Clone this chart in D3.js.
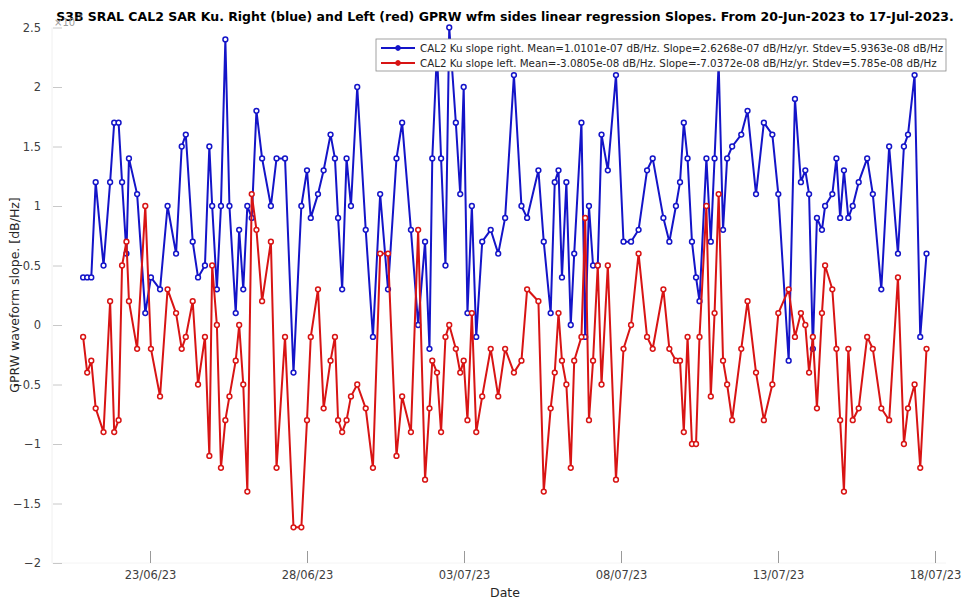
<!DOCTYPE html>
<html lang="en">
<head>
<meta charset="utf-8">
<title>CAL2 GPRW slopes</title>
<script src="https://cdn.jsdelivr.net/npm/d3@7"></script>
<style>
  body { margin: 0; background: #fff; }
  svg text { font-family: "DejaVu Sans", sans-serif; }
  .tick text { fill: #404040; }
</style>
</head>
<body>
<div id="chart"></div>
<script>
// days since 20-Jun-2023 00:00 UTC
var dayOffset = [
  0.87, 1.00, 1.13, 1.27, 1.52, 1.73, 1.86, 2.00, 2.11, 2.25, 2.33, 2.59, 2.85, 3.03, 3.32,
  3.56, 3.83, 4.01, 4.14, 4.36, 4.53, 4.75, 4.89, 4.98, 5.13, 5.26, 5.40, 5.53, 5.73, 5.84,
  5.97, 6.10, 6.24, 6.39, 6.57, 6.85, 7.03, 7.30, 7.57, 7.82, 8.00, 8.12, 8.35, 8.53, 8.75,
  8.89, 8.99, 9.12, 9.26, 9.40, 9.60, 9.87, 10.10, 10.33, 10.58, 10.85, 11.03,
  11.31, 11.54, 11.76, 11.90, 11.99, 12.14, 12.27, 12.41, 12.53, 12.74, 12.88, 12.99, 13.11, 13.25,
  13.39, 13.58, 13.85, 14.09, 14.31, 14.59, 14.83, 15.01, 15.37, 15.54, 15.76, 15.89, 16.01, 16.12, 16.26,
  16.40, 16.51, 16.74, 16.86, 16.98, 17.11, 17.26, 17.38, 17.58, 17.84, 18.08, 18.32, 18.56, 18.83, 19.01,
  19.35, 19.54, 19.75, 19.88, 20.00, 20.12, 20.26, 20.39, 20.50, 20.72, 20.86, 20.98, 21.11, 21.25, 21.38, 21.54,
  21.83, 22.03, 22.30, 22.55, 22.82, 23.01, 23.34, 23.54, 23.73, 23.87, 23.99, 24.11, 24.24, 24.40, 24.50,
  24.73, 24.86, 24.98, 25.10, 25.24, 25.38, 25.57, 25.84, 26.02, 26.29, 26.54, 26.82, 27.01, 27.14, 27.35, 27.53, 27.73
];

// slopes in units of 1e-7 dB/Hz
var slopeRight = [
  0.4, 0.4, 0.4, 1.2, 0.5, 1.2, 1.7, 1.7, 1.2, 0.6, 1.4, 1.1, 0.1, 0.4, 0.3,
  1.0, 0.6, 1.5, 1.6, 0.7, 0.4, 0.5, 1.5, 1.0, 0.3, 1.0, 2.4, 1.0, 0.1, 0.8,
  0.3, 1.0, 0.9, 1.8, 1.4, 1.0, 1.4, 1.4, -0.4, 1.0, 1.3, 0.9, 1.1, 1.3, 1.6,
  1.4, 0.9, 0.3, 1.4, 1.0, 2.0, 0.8, -0.1, 1.1, 0.3, 1.4, 1.7,
  0.8, 0.0, 0.7, -0.2, 1.4, 2.3, 1.4, 0.5, 2.5, 1.7, 1.1, 2.0, 0.1, 1.0,
  -0.1, 0.7, 0.8, 0.6, 0.9, 2.1, 1.0, 0.9, 1.3, 0.7, 0.1, 1.2, 1.3, 0.4, 1.2,
  0.0, 0.6, 1.7, -0.1, 1.0, 0.5, 0.5, 1.6, 1.3, 2.1, 0.7, 0.7, 0.8, 1.3, 1.4,
  0.9, 0.7, 1.0, 1.2, 1.7, 1.4, 0.7, 0.4, 0.2, 1.4, 0.7, 1.4, 2.2, 0.8, 1.4, 1.5,
  1.6, 1.8, 1.1, 1.7, 1.6, 1.1, -0.3, 1.9, 1.2, 1.3, 1.1, -0.2, 0.9, 0.8, 1.0,
  1.1, 1.4, 0.9, 1.3, 0.9, 1.0, 1.2, 1.4, 1.1, 0.3, 1.5, 0.6, 1.5, 1.6, 2.1, -0.1, 0.6
];

var slopeLeft = [
  -0.1, -0.4, -0.3, -0.7, -0.9, 0.2, -0.9, -0.8, 0.5, 0.7, 0.2, -0.2, 1.0, -0.2, -0.6,
  0.3, 0.1, -0.2, -0.1, 0.2, -0.5, -0.1, -1.1, 0.5, 0.0, -1.2, -0.8, -0.6, -0.3, 0.0,
  -0.5, -1.4, 1.1, 0.8, 0.2, 0.7, -1.2, -0.1, -1.7, -1.7, -0.8, -0.1, 0.3, -0.7, -0.3,
  -0.1, -0.8, -0.9, -0.8, -0.6, -0.5, -0.7, -1.2, 0.6, 0.6, -1.1, -0.6,
  -0.9, 0.8, -1.3, -0.7, -0.3, -0.4, -0.9, -0.1, 0.0, -0.2, -0.4, -0.3, -0.8, 0.1,
  -0.9, -0.6, -0.2, -0.6, -0.2, -0.4, -0.3, 0.3, 0.2, -1.4, -0.7, -0.4, 0.1, -0.3, -0.5,
  -1.2, -0.3, -0.1, 0.9, -0.8, -0.3, 0.5, -0.5, 0.5, -1.3, -0.2, 0.0, 0.6, -0.1, -0.2,
  0.3, -0.2, -0.3, -0.3, -0.9, -0.1, -1.0, -1.0, -0.1, 1.0, -0.6, 0.1, 1.1, -0.3, -0.5, -0.8,
  -0.2, 0.2, -0.4, -0.8, -0.5, 0.1, 0.3, -0.1, 0.1, 0.0, -0.4, -0.1, -0.7, 0.1, 0.5,
  0.3, -0.2, -0.8, -1.4, -0.2, -0.8, -0.7, -0.1, -0.2, -0.7, -0.8, 0.4, -1.0, -0.7, -0.5, -1.2, -0.2
];

var xTickLabels = ["23/06/23", "28/06/23", "03/07/23", "08/07/23", "13/07/23", "18/07/23"];
var yTicks = [-2, -1.5, -1, -0.5, 0, 0.5, 1, 1.5, 2, 2.5];
var legendLabels = [
  "CAL2 Ku slope right. Mean=1.0101e-07 dB/Hz. Slope=2.6268e-07 dB/Hz/yr. Stdev=5.9363e-08 dB/Hz",
  "CAL2 Ku slope left. Mean=-3.0805e-08 dB/Hz. Slope=-7.0372e-08 dB/Hz/yr. Stdev=5.785e-08 dB/Hz"
];
var titleText = "S3B SRAL CAL2 SAR Ku. Right (blue) and Left (red) GPRW wfm sides linear regression Slopes. From 20-Jun-2023 to 17-Jul-2023.";

var W = 961, H = 601;
var DAY = 86400000;
var t0 = Date.UTC(2023, 5, 20);
var parseTick = d3.utcParse("%d/%m/%y");

var svg = d3.select("#chart").append("svg")
  .attr("width", W).attr("height", H);

var x = d3.scaleUtc()
  .domain([new Date(t0), new Date(Date.UTC(2023, 6, 18))])
  .range([55.8, 935]);
var y = d3.scaleLinear().domain([-2, 2.5]).range([563, 27.5]);

var left = 52, right = 946;

// faint axis lines
svg.append("line").attr("x1", left).attr("x2", left).attr("y1", y(2.5)).attr("y2", y(-2))
  .attr("stroke", "#f0f0f0");
svg.append("line").attr("x1", left).attr("x2", right).attr("y1", y(-2)).attr("y2", y(-2))
  .attr("stroke", "#f4f4f4");

// x axis, ticks pointing inward
var xAxis = d3.axisBottom(x)
  .tickValues(xTickLabels.map(parseTick))
  .tickFormat(d3.utcFormat("%d/%m/%y"))
  .tickSize(-12).tickPadding(8);
var gx = svg.append("g").attr("transform", "translate(0," + y(-2) + ")").call(xAxis);
gx.select(".domain").remove();
gx.selectAll(".tick line").attr("stroke", "#9a9a9a");
gx.selectAll(".tick text").attr("font-size", 11.5);

var yAxis = d3.axisLeft(y).tickValues(yTicks).tickFormat(d3.format("")).tickSize(-9).tickPadding(12);
var gy = svg.append("g").attr("transform", "translate(" + (left + 1) + ",0)").call(yAxis);
gy.select(".domain").remove();
gy.selectAll(".tick line").attr("stroke", "#c8c8c8");
gy.selectAll(".tick text").attr("font-size", 11.5);

// series
var series = [
  { values: slopeRight, color: "#1414c8" },
  { values: slopeLeft, color: "#d81414" }
];

var line = d3.line()
  .x(function(d) { return x(new Date(t0 + d[0] * DAY)); })
  .y(function(d) { return y(d[1]); });

series.forEach(function(s) {
  var pts = dayOffset.map(function(d, i) { return [d, s.values[i]]; });
  svg.append("path").datum(pts)
    .attr("fill", "none").attr("stroke", s.color).attr("stroke-width", 2)
    .attr("stroke-linejoin", "round")
    .attr("d", line);
  svg.append("g").selectAll("circle").data(pts).enter().append("circle")
    .attr("cx", function(d) { return x(new Date(t0 + d[0] * DAY)); })
    .attr("cy", function(d) { return y(d[1]); })
    .attr("r", 2.4)
    .attr("fill", "#fff").attr("stroke", s.color).attr("stroke-width", 1.5);
});

// legend (opaque, covers the lines like in matlab)
var lg = svg.append("g").attr("transform", "translate(376,39)");
lg.append("rect").attr("width", 570).attr("height", 32)
  .attr("fill", "#fff").attr("stroke", "#8a8a8a").attr("stroke-width", 0.8);
series.forEach(function(s, i) {
  var yy = 9 + i * 15;
  lg.append("line").attr("x1", 5).attr("x2", 39).attr("y1", yy).attr("y2", yy)
    .attr("stroke", s.color).attr("stroke-width", 2);
  lg.append("circle").attr("cx", 22).attr("cy", yy).attr("r", 2.4)
    .attr("fill", s.color).attr("stroke", s.color);
  lg.append("text").attr("x", 44).attr("y", yy + 3.5)
    .attr("font-size", 10.3).attr("fill", "#262626").text(legendLabels[i]);
});

// title
var title = svg.append("text").attr("x", 505).attr("y", 21)
  .attr("text-anchor", "middle").attr("font-weight", "bold")
  .attr("font-size", 13).attr("fill", "#000").text(titleText);
var tw = title.node().getComputedTextLength();
title.attr("font-size", 13 * 898 / tw);

// exponent label
var ex = svg.append("text").attr("x", 54).attr("y", 26).attr("fill", "#9a9a9a").attr("font-size", 10);
ex.append("tspan").text("\u00d710");
ex.append("tspan").attr("dy", -6).attr("font-size", 7.5).text("-7");

// axis labels
svg.append("text").attr("x", 505).attr("y", 597).attr("text-anchor", "middle")
  .attr("font-size", 12.5).attr("fill", "#262626").text("Date");
svg.append("text").attr("transform", "translate(19,295) rotate(-90)")
  .attr("text-anchor", "middle").attr("font-size", 12.5).attr("fill", "#262626")
  .text("GPRW waveform slope. [dB/Hz]");
</script>
</body>
</html>
